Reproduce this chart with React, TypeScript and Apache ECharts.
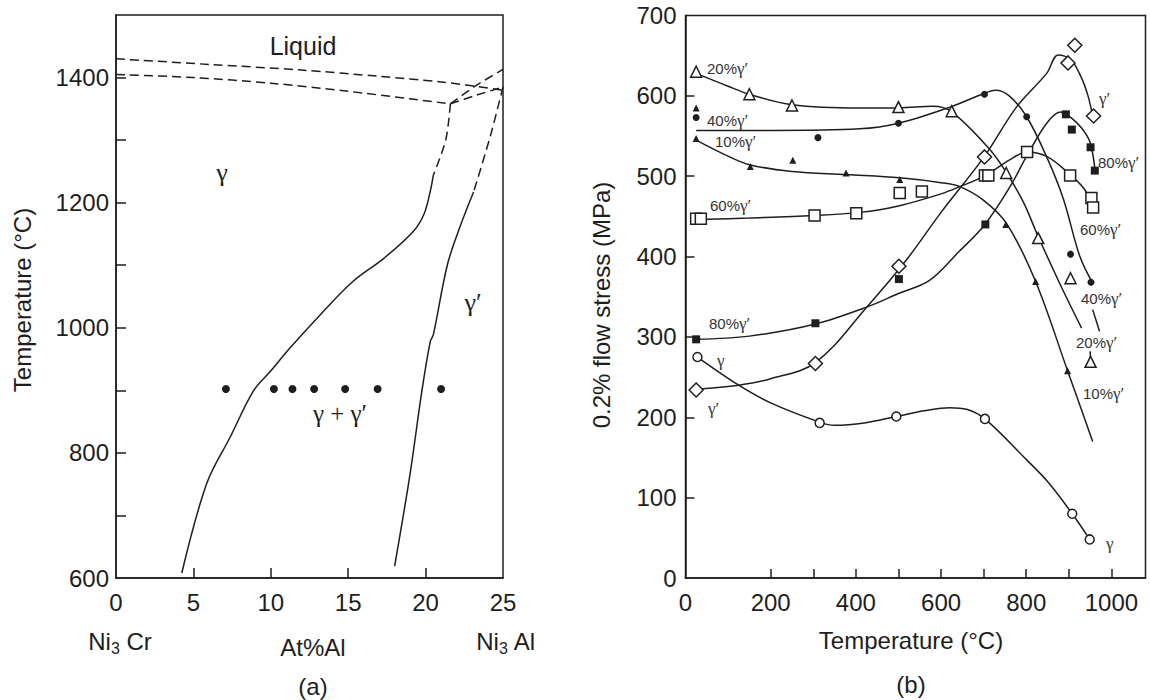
import React, { useEffect, useRef } from 'react';
import * as echarts from 'echarts';

// ---------- Panel (a): Ni3Cr – Ni3Al section ----------
const liquidus = [[0, 1430], [6, 1421], [12, 1412], [17, 1402], [21, 1393], [25, 1380]];
const solidus = [[0, 1405], [5, 1400], [10, 1391], [15, 1378], [19, 1366], [21.6, 1358]];
const gpUpper = [[21.6, 1358], [23.3, 1388], [25, 1413]];
const gpLower = [[21.6, 1358], [23.3, 1372], [25, 1385]];
const gammaSolvusDashed = [[21.6, 1358], [21.3, 1300], [20.5, 1244]];
const gammaSolvus = [[20.5, 1244], [20.3, 1218], [19.9, 1182], [19.2, 1154], [17.3, 1111], [15.3, 1074], [13.2, 1021], [11.25, 968], [9.96, 930], [8.88, 899], [7.37, 825], [5.86, 751], [4.25, 608]];
const gpSolvusDashed = [[25, 1385], [24.2, 1308], [23.1, 1217]];
const gpSolvus = [[23.1, 1217], [22.2, 1160], [21.4, 1100], [20.5, 989], [20.3, 978], [19.76, 899], [19.0, 767], [18.0, 619]];
const alloyAl = [7.1, 10.2, 11.4, 12.8, 14.8, 16.9, 21.0];
const alloyTemp = 902;

// ---------- Panel (b): 0.2% flow stress vs temperature ----------
const pts20 = [[25, 630], [150, 602], [250, 588], [500, 586], [625, 581], [753, 504], [828, 423], [904, 373], [951, 269]];
const curve20 = [[25, 628], [100, 612], [150, 602], [250, 589], [409, 585], [500, 585], [580, 587], [625, 580], [715, 533], [754, 504], [793, 468], [828, 425], [880, 365], [930, 311]];
const tail20 = [[950, 282], [951, 273]];

const pts40 = [[25, 573], [311, 548], [500, 566], [702, 602], [801, 574], [904, 403], [952, 368]];
const curve40 = [[25, 557], [200, 557], [409, 559], [500, 566], [621, 586], [701, 603], [728, 607], [760, 600], [801, 574], [848, 524], [887, 472], [926, 400], [957, 366]];
const tail40 = [[956, 334], [972, 307]];

const pts10 = [[25, 585], [25, 547], [152, 512], [252, 520], [377, 504], [503, 496], [752, 440], [822, 369], [897, 258]];
const curve10 = [[25, 545], [100, 525], [152, 514], [250, 506], [378, 502], [503, 498], [600, 492], [644, 487], [700, 470], [754, 441], [822, 369], [897, 258], [956, 170]];

const pts60 = [[25, 447], [36, 447], [303, 451], [401, 454], [503, 479], [555, 481], [703, 501], [711, 501], [802, 530], [903, 501], [953, 473], [957, 461]];
const curve60 = [[25, 446], [150, 448], [300, 451], [409, 455], [500, 463], [600, 478], [644, 487], [705, 501], [760, 520], [802, 530], [850, 524], [903, 502], [935, 485], [955, 466]];

const pts80 = [[25, 297], [305, 317], [501, 372], [704, 440], [893, 577], [907, 558], [951, 536], [961, 507]];
const curve80 = [[25, 297], [150, 301], [305, 316], [430, 338], [500, 354], [572, 370], [640, 405], [703, 440], [762, 487], [801, 525], [848, 566], [880, 580], [905, 573], [930, 560], [950, 542], [962, 505]];

const ptsGp = [[25, 234], [305, 267], [501, 388], [702, 524], [898, 641], [914, 663], [958, 575]];
const curveGp = [[25, 235], [125, 240], [200, 248], [305, 268], [427, 338], [519, 396], [600, 455], [701, 524], [777, 586], [848, 628], [875, 651], [905, 645], [930, 622], [945, 600], [956, 575]];

const ptsG = [[28, 275], [315, 193], [495, 201], [703, 198], [908, 80], [949, 48]];
const curveG = [[28, 275], [125, 240], [200, 218], [315, 194], [350, 190], [420, 193], [495, 201], [560, 208], [620, 212], [660, 210], [703, 198], [801, 147], [850, 120], [908, 80], [949, 48]];

const SANS = '"Liberation Sans", Arial, Helvetica, sans-serif';
const SERIF = '"Liberation Serif", "Times New Roman", serif';
const INK = '#1e1e1e';

function line(data: number[][], grid: number, dashed = false, smooth = 0.35) {
  return {
    type: 'line', xAxisIndex: grid, yAxisIndex: grid, data, smooth,
    symbol: 'none', silent: true, z: 3,
    lineStyle: { color: INK, width: 1.5, type: dashed ? [9, 5] : 'solid' },
  };
}

function marks(data: number[][], symbol: string, size: number, filled: boolean, grid = 1) {
  return {
    type: 'scatter', xAxisIndex: grid, yAxisIndex: grid, data, symbol, symbolSize: size, silent: true, z: 6,
    itemStyle: { color: filled ? INK : '#fff', borderColor: INK, borderWidth: filled ? 0 : 1.5, opacity: 1 },
  };
}

const richGamma = {
  s: { fontFamily: SANS, fontSize: 15, fill: '#333', color: '#333' },
  g: { fontFamily: SERIF, fontSize: 17, fill: '#333', color: '#333' },
};

function lab(text: string, x: number, y: number) {
  return {
    type: 'text', x, y, silent: true, z: 20,
    style: { text, rich: richGamma, align: 'left', verticalAlign: 'middle', fill: '#333' },
  };
}

function txt(text: string, x: number, y: number, size: number, family = SANS, rotation = 0, rich?: any) {
  return {
    type: 'text', x, y, rotation, silent: true, z: 20,
    style: { text, fontFamily: family, fontSize: size, fill: INK, align: 'center', verticalAlign: 'middle', rich },
  };
}

export default function App() {
  const ref = useRef<HTMLDivElement>(null);
  useEffect(() => {
    if (!ref.current) return;
    const chart = echarts.init(ref.current, undefined, { renderer: 'svg' });
    const axisLine = { show: true, lineStyle: { color: INK, width: 1.5 } };
    const tickLabel = { fontFamily: SANS, fontSize: 24, color: INK };
    const subRich = {
      n: { fontFamily: SANS, fontSize: 24, fill: INK, color: INK },
      sub: { fontFamily: SANS, fontSize: 16, fill: INK, color: INK, padding: [14, 0, 0, 0] },
    };
    chart.setOption({
      animation: false,
      backgroundColor: '#fff',
      grid: [
        { left: 116, top: 15, width: 387, height: 563, show: true, borderColor: INK, borderWidth: 1.5, containLabel: false },
        { left: 685.5, top: 15.5, width: 460, height: 562.5, show: true, borderColor: INK, borderWidth: 1.5, containLabel: false },
      ],
      xAxis: [
        {
          type: 'value', gridIndex: 0, min: 0, max: 25, interval: 5,
          axisLine, splitLine: { show: false },
          axisTick: { show: true, inside: true, length: 10, lineStyle: { color: INK, width: 1.5 }, customValues: [5, 10, 15, 20] },
          axisLabel: { ...tickLabel, margin: 12, showMinLabel: true, showMaxLabel: true },
        },
        {
          type: 'value', gridIndex: 1, min: 0, max: 1080, interval: 100,
          axisLine, splitLine: { show: false },
          axisTick: { show: true, inside: true, length: 9, lineStyle: { color: INK, width: 1.5 }, customValues: [200, 300, 400, 500, 600, 700, 800, 900, 1000] },
          axisLabel: { ...tickLabel, margin: 12, showMinLabel: true, showMaxLabel: false, formatter: (v: number) => (v % 200 === 0 && v <= 1000 ? String(v) : '') },
        },
      ],
      yAxis: [
        {
          type: 'value', gridIndex: 0, min: 600, max: 1500, interval: 100,
          axisLine, splitLine: { show: false },
          axisTick: { show: true, inside: true, length: 10, lineStyle: { color: INK, width: 1.5 }, customValues: [700, 800, 900, 1000, 1100, 1200, 1300, 1400] },
          axisLabel: { ...tickLabel, margin: 7, showMinLabel: true, showMaxLabel: false, formatter: (v: number) => (v % 200 === 0 && v < 1500 ? String(v) : '') },
        },
        {
          type: 'value', gridIndex: 1, min: 0, max: 700, interval: 100,
          axisLine, splitLine: { show: false },
          axisTick: { show: true, inside: true, length: 9, lineStyle: { color: INK, width: 1.5 }, customValues: [100, 200, 300, 400, 500, 600] },
          axisLabel: { ...tickLabel, margin: 9, showMinLabel: true, showMaxLabel: true },
        },
      ],
      series: [
        // panel (a)
        line(liquidus, 0, true, 0.3),
        line(solidus, 0, true, 0.3),
        line(gpUpper, 0, true, 0.2),
        line(gpLower, 0, true, 0.2),
        line(gammaSolvusDashed, 0, true, 0.3),
        line(gammaSolvus, 0, false, 0.35),
        line(gpSolvusDashed, 0, true, 0.3),
        line(gpSolvus, 0, false, 0.35),
        marks(alloyAl.map((a) => [a, alloyTemp]), 'circle', 8, true, 0),
        // panel (b) curves
        line(curve20, 1), line(tail20, 1, false, 0),
        line(curve40, 1), line(tail40, 1, false, 0),
        line(curve10, 1),
        line(curve60, 1),
        line(curve80, 1),
        line(curveGp, 1),
        line(curveG, 1),
        // panel (b) markers
        marks(pts20, 'triangle', 11, false),
        marks(pts40, 'circle', 7, true),
        marks(pts10, 'triangle', 7, true),
        marks(pts60, 'rect', 11, false),
        marks(pts80, 'rect', 8, true),
        marks(ptsGp, 'diamond', 14, false),
        marks(ptsG, 'circle', 9, false),
      ],
      graphic: [
        // panel (a) texts
        txt('Liquid', 303, 46, 25),
        txt('γ', 222, 172, 26, SERIF),
        txt('γ′', 473, 302, 26, SERIF),
        txt('γ + γ′', 340, 413, 25, SERIF),
        txt('Temperature (°C)', 22, 300, 24, SANS, Math.PI / 2),
        txt('{n|Ni}{sub|3}{n| Cr}', 120, 641, 24, SANS, 0, subRich),
        txt('At%Al', 313, 647, 24),
        txt('{n|Ni}{sub|3}{n| Al}', 506, 641, 24, SANS, 0, subRich),
        txt('(a)', 313, 686, 24),
        // panel (b) texts
        txt('0.2% flow stress (MPa)', 601, 305, 24, SANS, Math.PI / 2),
        txt('Temperature (°C)', 911, 640, 24),
        txt('(b)', 911, 684, 24),
        lab('{s|20%}{g|γ′}', 707, 68),
        lab('{s|40%}{g|γ′}', 707, 120),
        lab('{s|10%}{g|γ′}', 715, 141),
        lab('{s|60%}{g|γ′}', 710, 205),
        lab('{s|80%}{g|γ′}', 709, 323),
        lab('{g|γ}', 717, 360),
        lab('{g|γ′}', 708, 408),
        lab('{g|γ′}', 1099, 98),
        lab('{s|80%}{g|γ′}', 1098, 162),
        lab('{s|60%}{g|γ′}', 1080, 229),
        lab('{s|40%}{g|γ′}', 1081, 298),
        lab('{s|20%}{g|γ′}', 1076, 342),
        lab('{s|10%}{g|γ′}', 1083, 393),
        lab('{g|γ}', 1106, 543),
      ],
    });
    return () => chart.dispose();
  }, []);
  return <div ref={ref} style={{ position: 'fixed', left: 0, top: 0, width: 1150, height: 700, background: '#fff' }} />;
}
